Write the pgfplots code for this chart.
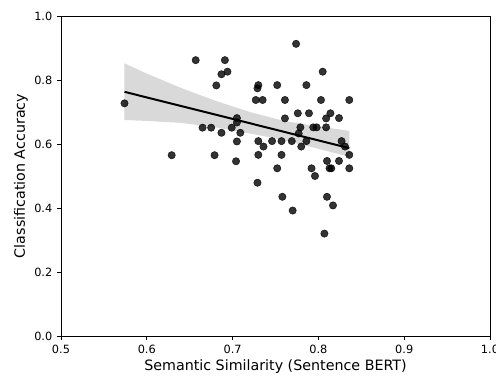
\documentclass[border=0pt]{standalone}
\usepackage{pgfplots}
\pgfplotsset{compat=1.18}
\usepackage{fontspec}
\setmainfont{DejaVu Sans}
\begin{document}
\begin{tikzpicture}
\begin{axis}[
  name=ax,
  scale only axis,
  width=321.75pt, height=240pt,
  xmin=0.5, xmax=1.0, ymin=0, ymax=1.0,
  xtick={0.5,0.6,0.7,0.8,0.9,1.0},
  ytick={0,0.2,0.4,0.6,0.8,1.0},
  tick align=outside, tick pos=left,
  major tick length=3pt,
  every tick/.style={black, line width=0.6pt},
  axis line style={line width=0.6pt},
  /pgf/number format/assume math mode=true,
  /pgf/number format/fixed, /pgf/number format/fixed zerofill, /pgf/number format/precision=1,
  tick label style={font=\fontsize{8.5}{10}\selectfont},
  label style={font=\fontsize{10.7}{12}\selectfont},
  xlabel={Semantic Similarity (Sentence BERT)},
  ylabel={Classification Accuracy},
  xlabel style={yshift=2pt},
  ylabel style={yshift=-2pt},
]
% confidence band
\addplot[fill=black, fill opacity=0.15, draw=none] coordinates {
(0.574,0.675) (0.60,0.672) (0.64,0.666) (0.68,0.652) (0.72,0.633) (0.76,0.612) (0.80,0.585) (0.836,0.560)
(0.836,0.641) (0.80,0.655) (0.76,0.672) (0.72,0.700) (0.68,0.735) (0.64,0.775) (0.60,0.820) (0.574,0.852)
} -- cycle;
% scatter
\addplot[only marks, mark=*, mark size=2.75pt, mark options={fill=black, draw=black, fill opacity=0.8, draw opacity=0.8}] coordinates {
(0.574,0.727) (0.629,0.565) (0.657,0.862) (0.665,0.651) (0.675,0.651) (0.679,0.565)
(0.681,0.783) (0.687,0.818) (0.687,0.635) (0.691,0.862) (0.694,0.826) (0.699,0.651)
(0.704,0.546) (0.705,0.681) (0.705,0.667) (0.705,0.608) (0.709,0.635) (0.727,0.7375)
(0.729,0.479) (0.730,0.784) (0.729,0.774) (0.730,0.609) (0.730,0.566) (0.735,0.7375)
(0.736,0.592) (0.746,0.609) (0.752,0.784) (0.752,0.524) (0.757,0.609) (0.757,0.566)
(0.758,0.435) (0.761,0.7375) (0.761,0.680) (0.769,0.609) (0.770,0.392) (0.774,0.913)
(0.776,0.696) (0.777,0.633) (0.779,0.652) (0.780,0.592) (0.786,0.784) (0.786,0.609)
(0.789,0.696) (0.792,0.524) (0.794,0.652) (0.796,0.500) (0.798,0.652) (0.803,0.7375)
(0.805,0.826) (0.807,0.320) (0.809,0.680) (0.809,0.652) (0.810,0.547) (0.810,0.435)
(0.813,0.524) (0.815,0.524) (0.814,0.696) (0.817,0.408) (0.824,0.681) (0.824,0.547)
(0.827,0.609) (0.831,0.592) (0.836,0.7375) (0.836,0.566) (0.836,0.524)
};
% regression line
\addplot[black, line width=1.5pt] coordinates {(0.574,0.763) (0.836,0.587)};
\end{axis}
\pgfresetboundingbox
\path[use as bounding box] ([xshift=-45.75pt, yshift=-30.75pt]ax.south west) rectangle ([xshift=4.5pt, yshift=12pt]ax.north east);
\end{tikzpicture}
\end{document}
